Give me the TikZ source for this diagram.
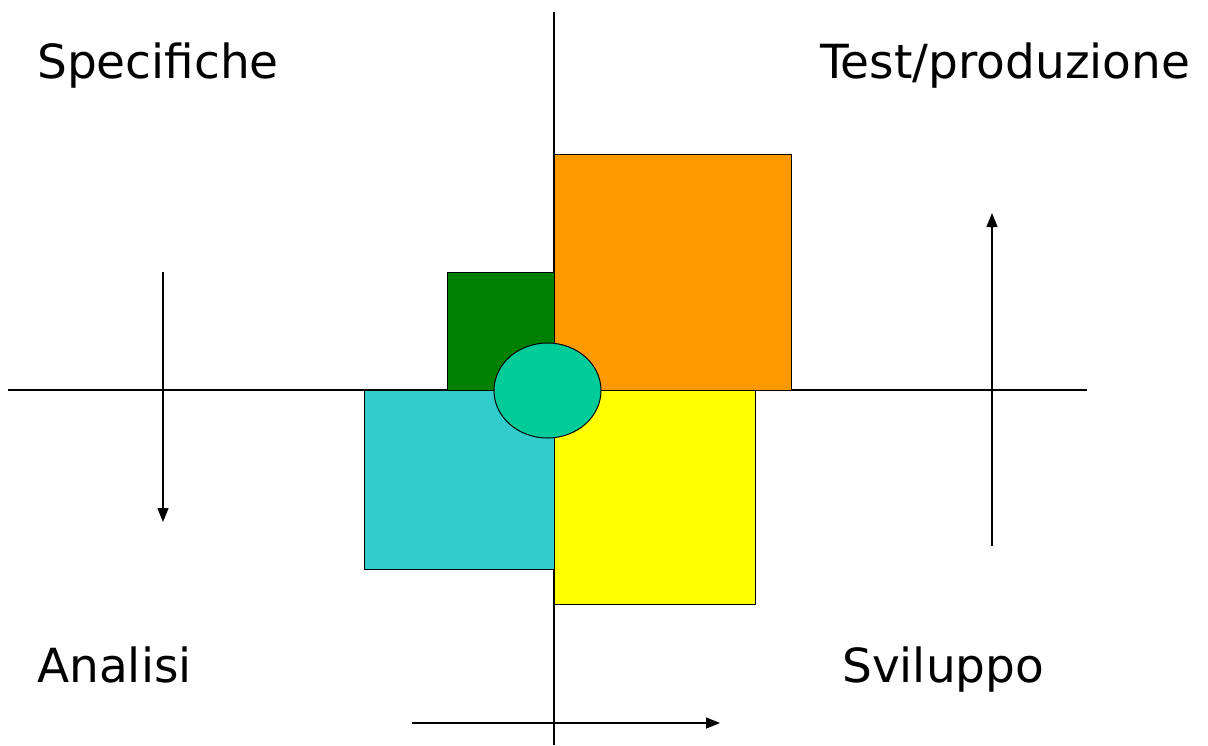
\documentclass[tikz,border=0pt]{standalone}
\usepackage{fontspec}
\setmainfont{DejaVu Sans}
\usetikzlibrary{arrows.meta,shapes.geometric}
\definecolor{cgreen}{RGB}{0,128,0}
\definecolor{corange}{RGB}{255,153,0}
\definecolor{ccyan}{RGB}{51,204,204}
\definecolor{cyellow}{RGB}{255,255,0}
\definecolor{cteal}{RGB}{0,204,153}
\tikzset{
  axis/.style={line width=1.4pt, draw=black},
  arr/.style={line width=1.4pt, -{Triangle[length=14pt,width=11pt]}},
  block/.style={draw=black, line width=1pt},
  lbl/.style={anchor=base west, inner sep=0pt, font=\fontsize{47}{52}\selectfont}
}
\begin{document}
\begin{tikzpicture}[x=1pt,y=-1pt]
\useasboundingbox (0,0) rectangle (1208,745);
% axes
\coordinate (vt) at (554,12);
\coordinate (vb) at (554,745);
\coordinate (hl) at (8,390);
\coordinate (hr) at (1087,390);
\draw[axis] (vt) -- (vb);
\draw[axis] (hl) -- (hr);
% blocks
\draw[block, fill=cgreen] (447,272) rectangle (554,390);
\draw[block, fill=corange] (554,154) rectangle (791,390);
\draw[block, fill=ccyan] (364,390) rectangle (554,569);
\draw[block, fill=cyellow] (554,390) rectangle (755,604);
\node[ellipse, draw=black, line width=1pt, fill=cteal, minimum width=107pt, minimum height=95pt, inner sep=0pt] (core) at (547.5,390.5) {};
% arrows
\coordinate (a1s) at (163,272);
\coordinate (a1e) at (163,522);
\coordinate (a2s) at (992,546);
\coordinate (a2e) at (992,213);
\coordinate (a3s) at (412,723);
\coordinate (a3e) at (720,723);
\draw[arr] (a1s) -- (a1e);
\draw[arr] (a2s) -- (a2e);
\draw[arr] (a3s) -- (a3e);
% labels
\node[lbl] (spec) at (37,78) {Specifiche};
\node[lbl] (test) at (820,78) {Test/produzione};
\node[lbl] (anal) at (37,682) {Analisi};
\node[lbl] (svil) at (842,682) {Sviluppo};
\end{tikzpicture}
\end{document}
